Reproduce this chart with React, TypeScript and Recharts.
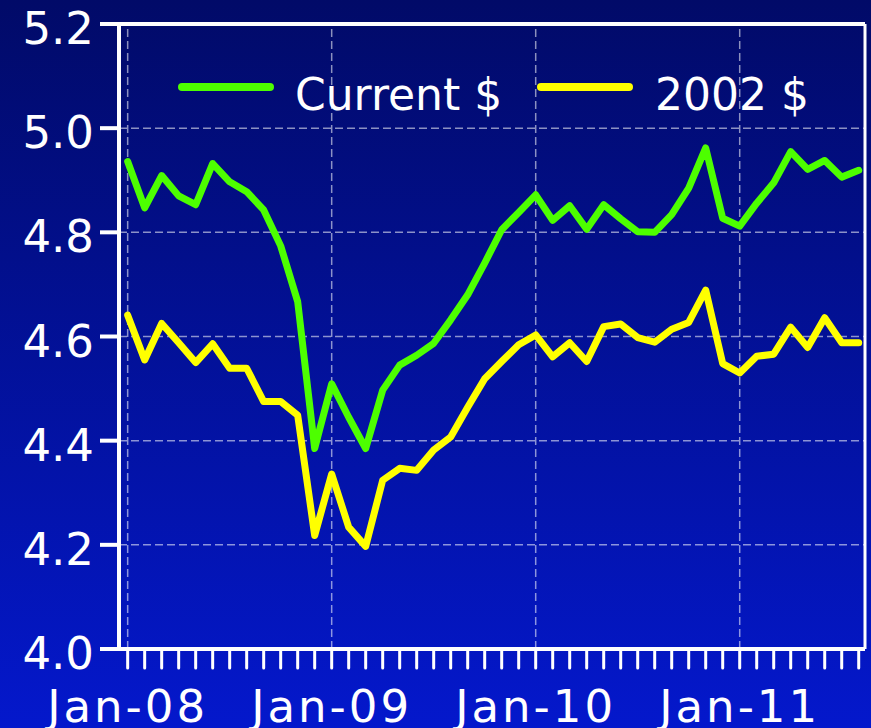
import React from 'react';
import { LineChart, Line, XAxis, YAxis, CartesianGrid, ReferenceLine, Legend } from 'recharts';

const months = [
  'Jan-08', 'Feb-08', 'Mar-08', 'Apr-08', 'May-08', 'Jun-08', 'Jul-08', 'Aug-08', 'Sep-08', 'Oct-08', 'Nov-08', 'Dec-08',
  'Jan-09', 'Feb-09', 'Mar-09', 'Apr-09', 'May-09', 'Jun-09', 'Jul-09', 'Aug-09', 'Sep-09', 'Oct-09', 'Nov-09', 'Dec-09',
  'Jan-10', 'Feb-10', 'Mar-10', 'Apr-10', 'May-10', 'Jun-10', 'Jul-10', 'Aug-10', 'Sep-10', 'Oct-10', 'Nov-10', 'Dec-10',
  'Jan-11', 'Feb-11', 'Mar-11', 'Apr-11', 'May-11', 'Jun-11', 'Jul-11', 'Aug-11',
];

const currentDollars = [
  4.936, 4.847, 4.909, 4.870, 4.853, 4.932, 4.897, 4.878, 4.843, 4.774, 4.667, 4.385,
  4.509, 4.445, 4.385, 4.497, 4.545, 4.564, 4.587, 4.632, 4.680, 4.741, 4.805, 4.838,
  4.872, 4.823, 4.851, 4.806, 4.853, 4.826, 4.801, 4.800, 4.834, 4.885, 4.962, 4.827,
  4.812, 4.856, 4.895, 4.955, 4.921, 4.938, 4.906, 4.919,
];

const dollars2002 = [
  4.641, 4.555, 4.625, 4.588, 4.550, 4.586, 4.539, 4.539, 4.475, 4.475, 4.449, 4.218,
  4.336, 4.234, 4.197, 4.324, 4.347, 4.343, 4.382, 4.407, 4.464, 4.519, 4.552, 4.584,
  4.603, 4.561, 4.588, 4.552, 4.619, 4.624, 4.598, 4.589, 4.614, 4.627, 4.689, 4.548,
  4.530, 4.562, 4.566, 4.618, 4.579, 4.636, 4.588, 4.588,
];

const seriesNames = ['Current $', '2002 $'];
const seriesColors = ['#4DFF00', '#FFFF00'];
const yTicks = [4.0, 4.2, 4.4, 4.6, 4.8, 5.0, 5.2];

const data = months.map((m, i) => ({
  i,
  month: m,
  current: currentDollars[i],
  real: dollars2002[i],
}));

const xTicks = months.map((_, i) => i);
const janIdx = months.map((m, i) => (m.startsWith('Jan') ? i : -1)).filter((i) => i >= 0);
const X_MIN = -0.51;
const X_MAX = 43.37;

const FONT = '"DejaVu Sans", Verdana, sans-serif';
const GRID = 'rgba(255,255,255,0.55)';

const YTick = (props: any) => {
  const { x, y, payload } = props;
  return (
    <text x={x} y={y} dy={20} textAnchor="end" fill="#fff" fontSize={45} fontFamily={FONT}>
      {Number(payload.value).toFixed(1)}
    </text>
  );
};

const XTick = (props: any) => {
  const { x, y, payload } = props;
  const label = months[payload.value];
  if (!label || !label.startsWith('Jan')) return <g />;
  return (
    <text x={x} y={y} dy={52} textAnchor="middle" fill="#fff" fontSize={45} fontFamily={FONT} letterSpacing={3}>
      {label}
    </text>
  );
};

const legendPos = [
  { bar: 8, text: 125 },
  { bar: 367, text: 485 },
];

const LegendContent = (props: any) => {
  const raw = props.payload || [];
  const payload = seriesNames
    .map((n) => raw.find((p: any) => p.value === n))
    .filter((p: any) => !!p);
  return (
    <div style={{ position: 'relative', width: 700, height: 60 }}>
      {payload.map((p: any, k: number) => (
        <React.Fragment key={k}>
          <div
            style={{
              position: 'absolute',
              left: legendPos[k].bar,
              top: 23,
              width: 96,
              height: 8,
              borderRadius: 4,
              background: p.color,
            }}
          />
          <span
            style={{
              position: 'absolute',
              left: legendPos[k].text,
              top: 13,
              fontSize: 44,
              lineHeight: '44px',
              fontFamily: FONT,
              color: '#fff',
              whiteSpace: 'nowrap',
            }}
          >
            {p.value}
          </span>
        </React.Fragment>
      ))}
    </div>
  );
};

export default function App() {
  return (
    <div
      style={{
        position: 'absolute',
        left: 0,
        top: 0,
        width: 871,
        height: 728,
        background: 'linear-gradient(to bottom, #010A68 0%, #0418CC 100%)',
        overflow: 'hidden',
      }}
    >
      <LineChart width={871} height={728} data={data} margin={{ top: 24, right: 6, bottom: 0, left: 0 }}>
        <CartesianGrid vertical={false} stroke={GRID} strokeWidth={1.5} strokeDasharray="8 4" />
        {janIdx.map((j) => (
          <ReferenceLine key={j} x={j} stroke={GRID} strokeWidth={1.5} strokeDasharray="8 4" />
        ))}
        <XAxis
          type="number"
          dataKey="i"
          domain={[X_MIN, X_MAX]}
          allowDataOverflow
          ticks={xTicks}
          interval={0}
          height={79}
          tickSize={19}
          tickMargin={2}
          axisLine={{ stroke: '#fff', strokeWidth: 4 }}
          tickLine={{ stroke: '#fff', strokeWidth: 3, strokeLinecap: 'round' }}
          tick={<XTick />}
        />
        <YAxis
          type="number"
          domain={[4.0, 5.2]}
          ticks={yTicks}
          interval={0}
          width={119}
          tickSize={19}
          tickMargin={6}
          axisLine={{ stroke: '#fff', strokeWidth: 4 }}
          tickLine={{ stroke: '#fff', strokeWidth: 4 }}
          tick={<YTick />}
        />
        <ReferenceLine y={5.2} stroke="#fff" strokeWidth={4} />
        <ReferenceLine x={X_MAX} stroke="#fff" strokeWidth={3} />
        <Legend
          layout="horizontal"
          verticalAlign="middle"
          align="center"
          itemSorter={null as any}
          content={<LegendContent />}
          wrapperStyle={{ position: 'absolute', top: 60, left: 170, width: 700, height: 60 }}
        />
        <Line
          type="linear"
          dataKey="current"
          name={seriesNames[0]}
          stroke={seriesColors[0]}
          strokeWidth={7}
          strokeLinejoin="round"
          strokeLinecap="round"
          dot={false}
          activeDot={false}
          isAnimationActive={false}
        />
        <Line
          type="linear"
          dataKey="real"
          name={seriesNames[1]}
          stroke={seriesColors[1]}
          strokeWidth={7}
          strokeLinejoin="round"
          strokeLinecap="round"
          dot={false}
          activeDot={false}
          isAnimationActive={false}
        />
      </LineChart>
    </div>
  );
}
